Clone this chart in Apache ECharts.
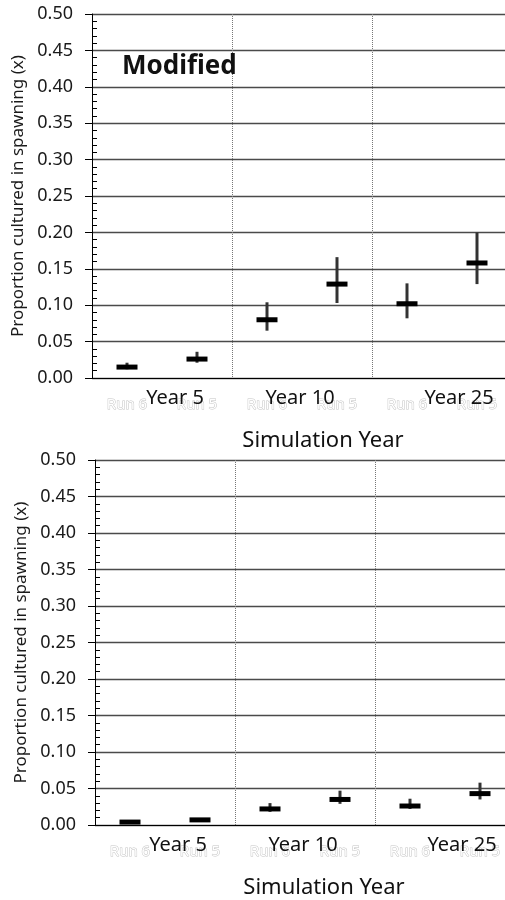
<!DOCTYPE html>
<html>
<head>
<meta charset="utf-8">
<script src="https://cdn.jsdelivr.net/npm/echarts@6/dist/echarts.min.js"></script>
<style>
  html, body { margin: 0; background: #fff; }
  #chart { width: 505px; height: 900px; }
</style>
</head>
<body>
<div id="chart"></div>
<script>
  // categories
  const runs = ['Run 6', 'Run 5', 'Run 6', 'Run 5', 'Run 6', 'Run 5']
  const years = ['Year 5', 'Year 10', 'Year 25']

  // top panel ("Modified")
  const modMid = [0.015, 0.026, 0.080, 0.129, 0.102, 0.158]
  const modLow = [0.012, 0.021, 0.065, 0.103, 0.082, 0.129]
  const modHigh = [0.021, 0.036, 0.104, 0.166, 0.130, 0.200]

  // bottom panel
  const baseMid = [0.004, 0.007, 0.022, 0.035, 0.026, 0.043]
  const baseLow = [0.002, 0.005, 0.018, 0.029, 0.022, 0.035]
  const baseHigh = [0.006, 0.009, 0.030, 0.047, 0.036, 0.058]

  const FONT = 'Noto Sans'
  const panels = [
    {left: 92, top: 14, height: 364, nameShift: 42},
    {left: 95, top: 460, height: 365, nameShift: 38}
  ]

  const every2 = function (i) { return i % 2 === 0 }

  const whisker = function (params, api) {
    const a = api.coord([api.value(0), api.value(1)])
    const b = api.coord([api.value(0), api.value(2)])
    return {
      type: 'line',
      shape: {x1: a[0], y1: a[1], x2: b[0], y2: b[1]},
      style: {stroke: '#333', lineWidth: 3}
    }
  }

  let grid = [], xAxis = [], yAxis = [], series = []

  panels.forEach(function (p, k) {
    grid.push({left: p.left, top: p.top, width: 420, height: p.height, outerBoundsMode: 'none'})

    xAxis.push({
      type: 'category', gridIndex: k, data: runs,
      axisLine: {lineStyle: {color: '#000', width: 1}},
      axisTick: {interval: every2, length: 6, lineStyle: {color: '#000'}},
      splitLine: {show: true, interval: every2, lineStyle: {color: '#777', type: [1, 1], width: 1}},
      axisLabel: {
        interval: 0, margin: 19, fontFamily: FONT, fontSize: 15,
        color: '#fff', textBorderColor: '#c4c4c4', textBorderWidth: 1
      }
    })
    xAxis.push({
      type: 'category', gridIndex: k, data: years, position: 'bottom',
      axisLine: {show: false}, axisTick: {show: false},
      axisLabel: {
        interval: 0, margin: 10, fontFamily: FONT, fontSize: 20, color: '#111',
        formatter: function (v, i) { return '{y' + i + '|' + v + '}' },
        rich: {
          y0: {fontFamily: FONT, fontSize: 20, color: '#111', padding: [0, 0, 0, 26]},
          y1: {fontFamily: FONT, fontSize: 20, color: '#111', padding: [0, 4, 0, 0]},
          y2: {fontFamily: FONT, fontSize: 20, color: '#111', padding: [0, 0, 0, 34]}
        }
      },
      name: 'Simulation Year', nameLocation: 'middle', nameGap: 52,
      nameTextStyle: {fontFamily: FONT, fontSize: 22, color: '#111', padding: [0, 0, 0, p.nameShift]}
    })

    yAxis.push({
      type: 'value', gridIndex: k, min: 0, max: 0.5, interval: 0.05,
      axisLine: {show: true, lineStyle: {color: '#000'}},
      axisTick: {show: true, length: 7, lineStyle: {color: '#000'}},
      axisLabel: {
        margin: 19, fontFamily: FONT, fontSize: 18, color: '#1a1a1a',
        formatter: function (v) { return v.toFixed(2) }
      },
      splitLine: {lineStyle: {color: '#4a4a4a', width: 1.3}},
      name: 'Proportion cultured in spawning (x)', nameLocation: 'middle',
      nameGap: k === 0 ? 61 : 63,
      nameTextStyle: {fontFamily: FONT, fontSize: 17, color: '#1a1a1a'}
    })
    // minor ticks point into the plot, major ticks point out
    yAxis.push({
      type: 'value', gridIndex: k, min: 0, max: 0.5, interval: 0.05, position: 'left',
      axisLine: {show: false}, axisLabel: {show: false}, splitLine: {show: false},
      axisTick: {show: false, inside: true},
      minorTick: {show: true, splitNumber: 5, length: 5, lineStyle: {color: '#000'}}
    })

    const mid = k === 0 ? modMid : baseMid
    const low = k === 0 ? modLow : baseLow
    const high = k === 0 ? modHigh : baseHigh

    series.push({
      type: 'custom', xAxisIndex: k * 2, yAxisIndex: k * 2,
      renderItem: whisker,
      encode: {x: 0, y: [1, 2]},
      data: runs.map(function (r, i) { return [i, low[i], high[i]] }),
      z: 3
    })
    series.push({
      type: 'scatter', xAxisIndex: k * 2, yAxisIndex: k * 2,
      symbol: 'rect', symbolSize: [21, 5],
      itemStyle: {color: '#000', opacity: 1},
      data: runs.map(function (r, i) { return [i, mid[i]] }),
      z: 4
    })
  })

  const chart = echarts.init(document.getElementById('chart'))
  chart.setOption({
    backgroundColor: '#fff',
    animation: false,
    title: {
      text: 'Modified', left: 122, top: 54, padding: 0,
      textStyle: {fontFamily: FONT, fontSize: 26, fontWeight: 'bold', color: '#111'}
    },
    grid: grid,
    xAxis: xAxis,
    yAxis: yAxis,
    series: series
  })
</script>
</body>
</html>
